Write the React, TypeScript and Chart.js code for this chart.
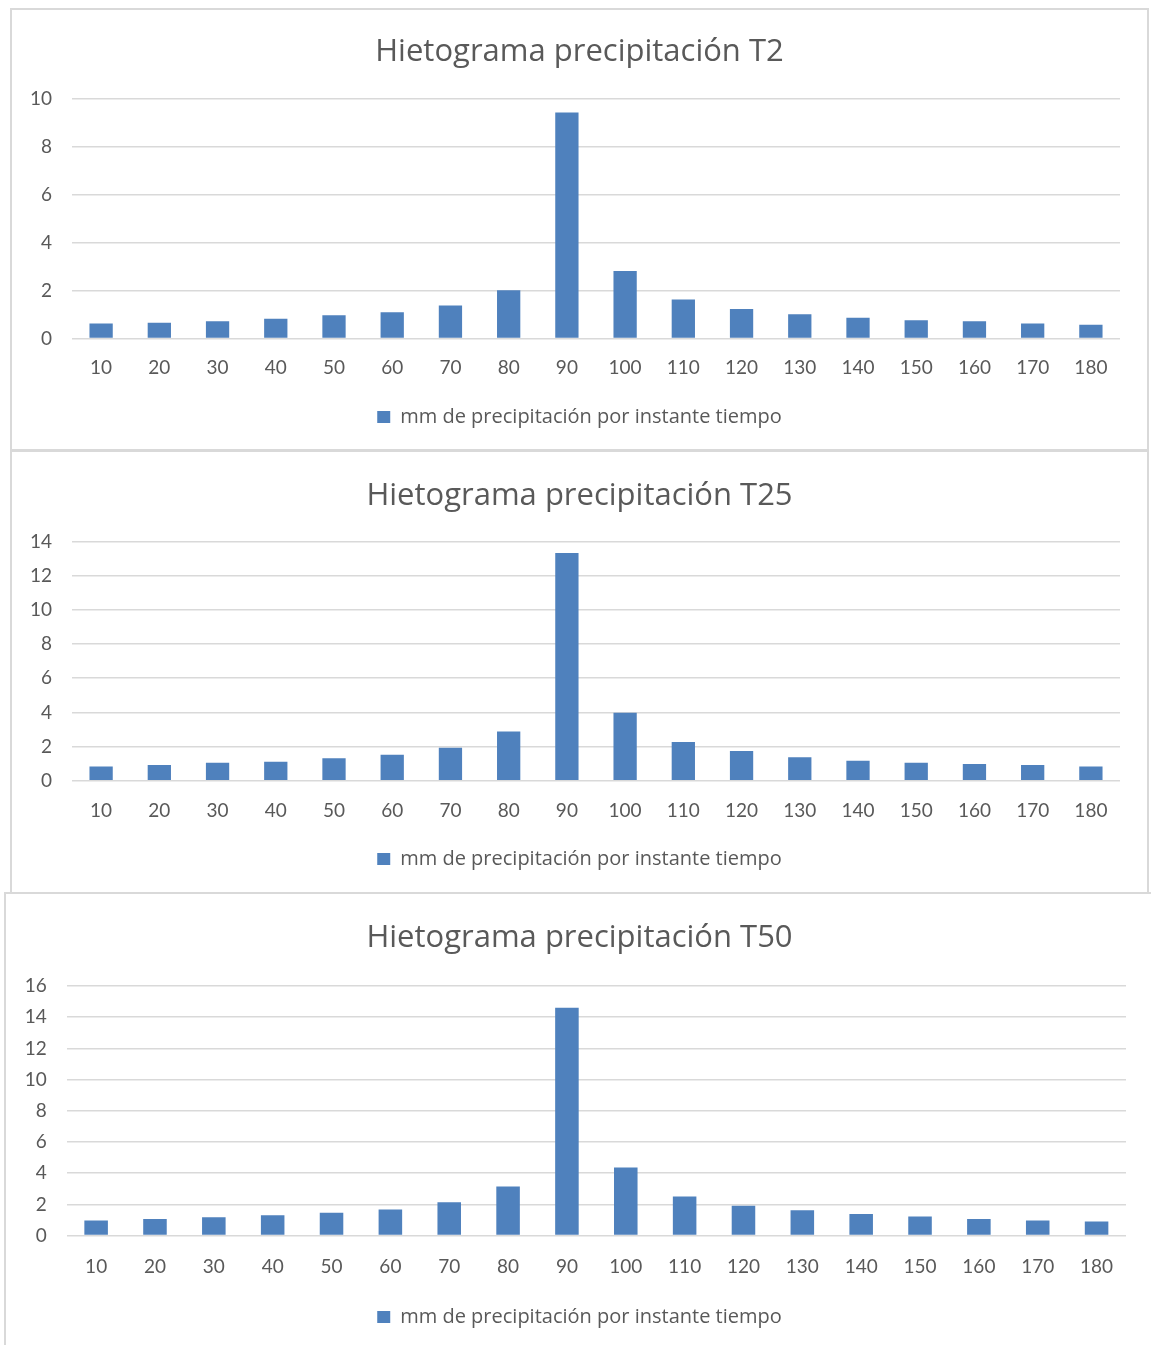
import { useEffect, useRef } from "react";
import { Chart, registerables } from "chart.js";

Chart.register(...registerables);

// Time steps (minutes)
const minutes = ["10", "20", "30", "40", "50", "60", "70", "80", "90", "100", "110", "120", "130", "140", "150", "160", "170", "180"];

// Rainfall depth per time step (mm), alternating-block hyetographs
const rainT2 = [0.62, 0.66, 0.72, 0.82, 0.97, 1.09, 1.38, 2.01, 9.42, 2.81, 1.62, 1.23, 1.01, 0.86, 0.76, 0.72, 0.62, 0.57];
const rainT25 = [0.83, 0.93, 1.06, 1.12, 1.32, 1.53, 1.94, 2.88, 13.33, 3.98, 2.27, 1.75, 1.38, 1.18, 1.06, 0.98, 0.93, 0.83];
const rainT50 = [0.97, 1.06, 1.17, 1.31, 1.46, 1.68, 2.13, 3.15, 14.6, 4.37, 2.51, 1.91, 1.62, 1.38, 1.23, 1.06, 0.97, 0.91];

const titles = ["Hietograma precipitación T2", "Hietograma precipitación T25", "Hietograma precipitación T50"];
const yMaxes = [10, 14, 16];
const seriesLabel = "mm de precipitación por instante tiempo";

const TEXT_FONT = "'Open Sans', Lato, sans-serif";
const TICK_FONT = "Lato, 'Open Sans', sans-serif";
const TEXT = "#595959";
const GRID = "#d9d9d9";
const BAR = "#4f81bd";
const TITLE_SIZE = 31;
const TICK_SIZE = 19;
const LEGEND_SIZE = 20;
const BORDER = 2;

type Panel = {
  title: string;
  values: number[];
  yMax: number;
  // frame box in page pixels
  left: number;
  top: number;
  width: number;
  height: number;
  // plot area and text rows in page pixels
  plotLeft: number;
  plotRight: number;
  plotTop: number;
  plotBottom: number;
  titleY: number;
  tickY: number;
  legendY: number;
};

const panels: Panel[] = [
  {
    title: titles[0], values: rainT2, yMax: yMaxes[0],
    left: 10, top: 8, width: 1139, height: 443,
    plotLeft: 72, plotRight: 1120, plotTop: 98.5, plotBottom: 338.5,
    titleY: 52.5, tickY: 368, legendY: 417,
  },
  {
    title: titles[1], values: rainT25, yMax: yMaxes[1],
    left: 10, top: 450, width: 1139, height: 444,
    plotLeft: 72, plotRight: 1120, plotTop: 541.5, plotBottom: 780.8,
    titleY: 495.8, tickY: 810.5, legendY: 859,
  },
  {
    title: titles[2], values: rainT50, yMax: yMaxes[2],
    left: 4, top: 892, width: 1151, height: 470,
    plotLeft: 66.7, plotRight: 1126, plotTop: 986, plotBottom: 1235.6,
    titleY: 938.3, tickY: 1266.5, legendY: 1317,
  },
];

function HyetogramPanel({ p }: { p: Panel }) {
  const ref = useRef<HTMLCanvasElement | null>(null);
  const cx = p.left + BORDER;
  const cy = p.top + BORDER;
  const cw = p.width - 2 * BORDER;
  const ch = p.height - 2 * BORDER;

  useEffect(() => {
    if (!ref.current) return;
    const titleLH = TITLE_SIZE * 1.2;
    const titlePadTop = p.titleY - cy - titleLH / 2;
    const titlePadBottom = p.plotTop - cy - titlePadTop - titleLH;

    const legendPad = 10;
    const boxH = 12;
    const itemH = Math.max(LEGEND_SIZE, boxH);
    const legendH = itemH + legendPad + 10;
    const legendTop = p.legendY - cy - legendPad - itemH / 2;
    const layoutBottom = ch - (legendTop + legendH);
    const xAxisH = legendTop - (p.plotBottom - cy);
    const tickLH = TICK_SIZE * 1.2;
    const xTickPad = p.tickY - p.plotBottom - tickLH / 2;
    const yAxisW = p.plotLeft - cx;
    const rightW = cx + cw - p.plotRight;

    const chart = new Chart(ref.current, {
      type: "bar",
      data: {
        labels: minutes,
        datasets: [
          {
            label: seriesLabel,
            data: p.values,
            backgroundColor: BAR,
            borderColor: BAR,
            borderWidth: 0,
            barPercentage: 0.4,
            categoryPercentage: 1,
            yAxisID: "y",
          },
        ],
      },
      options: {
        animation: false,
        responsive: false,
        maintainAspectRatio: false,
        devicePixelRatio: 1,
        layout: { padding: { top: 0, left: 0, right: 0, bottom: layoutBottom } },
        plugins: {
          tooltip: { enabled: false },
          title: {
            display: true,
            text: p.title,
            color: TEXT,
            font: { family: TEXT_FONT, size: TITLE_SIZE, weight: "normal", lineHeight: 1.2 },
            padding: { top: titlePadTop, bottom: titlePadBottom },
          },
          legend: {
            display: true,
            position: "bottom",
            labels: {
              color: TEXT,
              font: { family: TEXT_FONT, size: LEGEND_SIZE },
              boxWidth: 13,
              boxHeight: boxH,
              padding: legendPad,
            },
          },
        },
        scales: {
          x: {
            grid: { display: false, drawTicks: false },
            border: { display: false },
            ticks: {
              color: TEXT,
              font: { family: TICK_FONT, size: TICK_SIZE, lineHeight: 1.2 },
              padding: xTickPad,
              autoSkip: false,
              maxRotation: 0,
              minRotation: 0,
            },
            afterFit: (s: any) => {
              s.height = xAxisH;
            },
          },
          y: {
            position: "left",
            min: 0,
            max: p.yMax,
            ticks: {
              stepSize: 2,
              color: TEXT,
              font: { family: TICK_FONT, size: TICK_SIZE },
              padding: 20,
            },
            grid: { color: GRID, lineWidth: 1.5, drawTicks: false },
            border: { display: false },
            afterFit: (s: any) => {
              s.width = yAxisW;
            },
          },
          yRight: {
            position: "right",
            display: true,
            grid: { display: false, drawTicks: false },
            border: { display: false },
            ticks: { display: false },
            afterFit: (s: any) => {
              s.width = rightW;
            },
          },
        },
      },
    });
    return () => chart.destroy();
  }, [p]);

  return (
    <div
      style={{
        position: "absolute",
        left: p.left,
        top: p.top,
        width: p.width,
        height: p.height,
        border: `${BORDER}px solid ${GRID}`,
        boxSizing: "border-box",
        background: "#ffffff",
      }}
    >
      <canvas ref={ref} width={cw} height={ch} style={{ display: "block", width: cw, height: ch }} />
    </div>
  );
}

export default function App() {
  return (
    <div
      style={{
        position: "absolute",
        left: 0,
        top: 0,
        width: 1151,
        height: 1345,
        overflow: "hidden",
        background: "#ffffff",
      }}
    >
      {panels.map((p, i) => (
        <HyetogramPanel key={i} p={p} />
      ))}
    </div>
  );
}
